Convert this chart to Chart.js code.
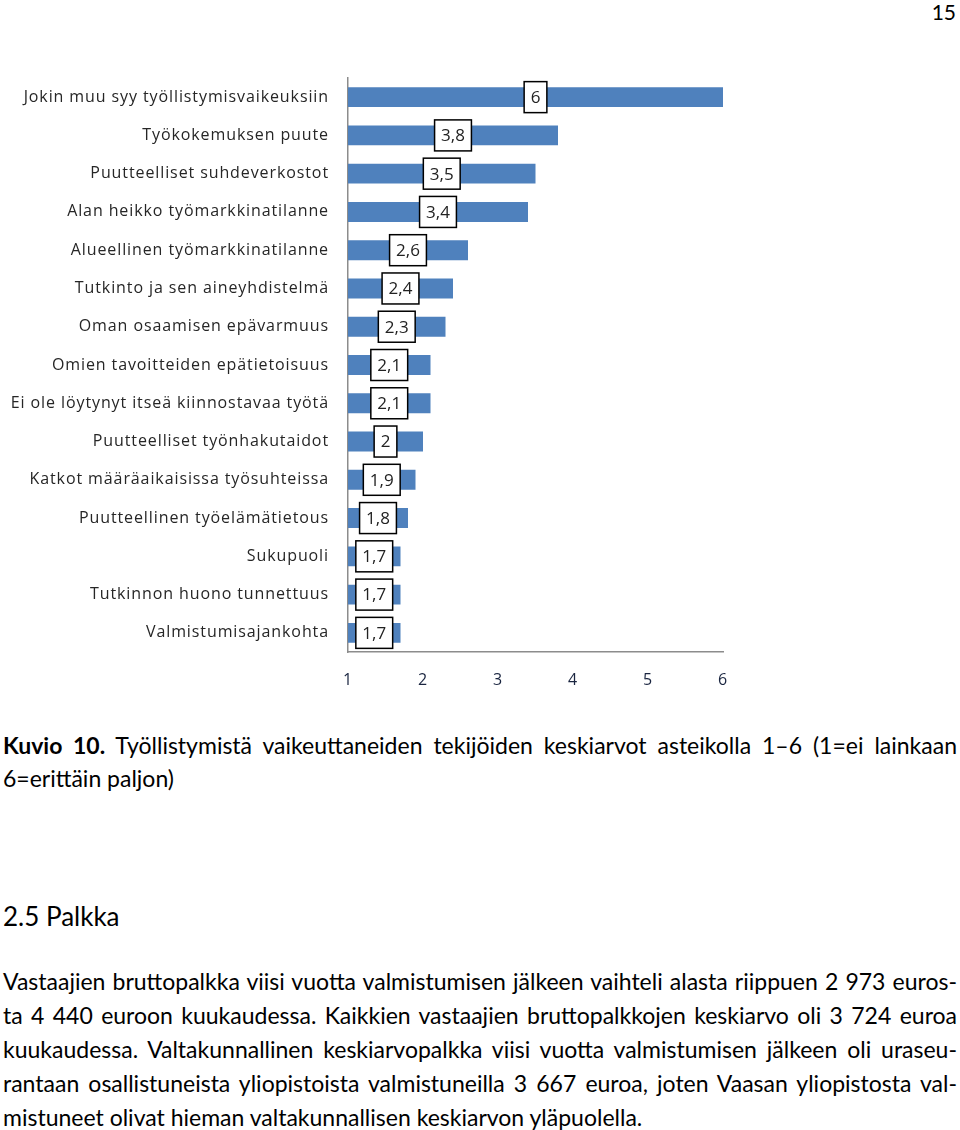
<!DOCTYPE html>
<html>
<head>
<meta charset="utf-8">
<script src="https://cdn.jsdelivr.net/npm/chart.js@4/dist/chart.umd.min.js"></script>
<style>
  html, body { margin: 0; padding: 0; background: #fff; }
  body { width: 960px; height: 1130px; position: relative; overflow: hidden; font-family: Lato, "Open Sans", sans-serif; color: #000; }
  #chartBox { position: absolute; left: 0; top: 60px; width: 760px; height: 640px; }
  .line { position: absolute; left: 3px; width: 954px; font-size: 23px; line-height: 34px; white-space: nowrap; }
  .just { text-align: justify; text-align-last: justify; white-space: normal; }
  .pagenum { position: absolute; right: 4px; top: -5px; font-size: 21px; line-height: 34px; }
  .head { position: absolute; left: 3px; top: 898px; font-size: 26px; line-height: 36px; }
</style>
</head>
<body>
<div class="pagenum">15</div>
<div id="chartBox"><canvas id="barChart"></canvas></div>

<div class="line just" style="top:728px"><b>Kuvio 10.</b> Työllistymistä vaikeuttaneiden tekijöiden keskiarvot asteikolla 1–6 (1=ei lainkaan</div>
<div class="line" style="top:761px">6=erittäin paljon)</div>

<div class="head">2.5 Palkka</div>

<div class="line just" style="top:964px">Vastaajien bruttopalkka viisi vuotta valmistumisen jälkeen vaihteli alasta riippuen 2 973 euros-</div>
<div class="line just" style="top:998px">ta 4 440 euroon kuukaudessa. Kaikkien vastaajien bruttopalkkojen keskiarvo oli 3 724 euroa</div>
<div class="line just" style="top:1032px">kuukaudessa. Valtakunnallinen keskiarvopalkka viisi vuotta valmistumisen jälkeen oli uraseu-</div>
<div class="line just" style="top:1066px">rantaan osallistuneista yliopistoista valmistuneilla 3 667 euroa, joten Vaasan yliopistosta val-</div>
<div class="line" style="top:1100px">mistuneet olivat hieman valtakunnallisen keskiarvon yläpuolella.</div>

<script>
document.addEventListener('DOMContentLoaded', function () {
    const categories = [
        'Jokin muu syy työllistymisvaikeuksiin',
        'Työkokemuksen puute',
        'Puutteelliset suhdeverkostot',
        'Alan heikko työmarkkinatilanne',
        'Alueellinen työmarkkinatilanne',
        'Tutkinto ja sen aineyhdistelmä',
        'Oman osaamisen epävarmuus',
        'Omien tavoitteiden epätietoisuus',
        'Ei ole löytynyt itseä kiinnostavaa työtä',
        'Puutteelliset työnhakutaidot',
        'Katkot määräaikaisissa työsuhteissa',
        'Puutteellinen työelämätietous',
        'Sukupuoli',
        'Tutkinnon huono tunnettuus',
        'Valmistumisajankohta'
    ];
    const meanValues = [6, 3.8, 3.5, 3.4, 2.6, 2.4, 2.3, 2.1, 2.1, 2, 1.9, 1.8, 1.7, 1.7, 1.7];
    const xTicks = [1, 2, 3, 4, 5, 6];

    // the old chart spaces its category text out a bit
    const wideLabels = {
        id: 'wideLabels',
        beforeDraw(chart) { chart.ctx.letterSpacing = '0.9px'; },
        afterDraw(chart) { chart.ctx.letterSpacing = '0px'; }
    };

    // white boxed value labels in the middle of each bar
    const boxLabels = {
        id: 'boxLabels',
        afterDatasetsDraw(chart) {
            const ctx = chart.ctx;
            const meta = chart.getDatasetMeta(0);
            ctx.save();
            ctx.letterSpacing = '0px';
            ctx.font = '17px "Open Sans", sans-serif';
            ctx.textAlign = 'center';
            ctx.textBaseline = 'middle';
            meta.data.forEach((bar, i) => {
                const txt = String(meanValues[i]).replace('.', ',');
                const cx = (bar.x + bar.base) / 2;
                const cy = bar.y;
                const w = ctx.measureText(txt).width + 13;
                const h = 31;
                ctx.fillStyle = '#fff';
                ctx.fillRect(cx - w / 2, cy - h / 2, w, h);
                ctx.lineWidth = 1.5;
                ctx.strokeStyle = '#000';
                ctx.strokeRect(cx - w / 2, cy - h / 2, w, h);
                ctx.fillStyle = '#222';
                ctx.fillText(txt, cx, cy + 1);
            });
            ctx.restore();
        }
    };

    new Chart(document.getElementById('barChart'), {
        type: 'bar',
        data: {
            labels: categories,
            datasets: [{
                data: meanValues,
                base: 1,
                backgroundColor: '#4F81BD',
                borderWidth: 0,
                barPercentage: 0.52,
                categoryPercentage: 1
            }]
        },
        options: {
            indexAxis: 'y',
            responsive: true,
            maintainAspectRatio: false,
            animation: false,
            layout: { padding: { top: 18, right: 37, left: 0, bottom: 0 } },
            plugins: { legend: { display: false }, tooltip: { enabled: false } },
            scales: {
                x: {
                    min: 1,
                    max: 6,
                    afterBuildTicks: (scale) => { scale.ticks = xTicks.map(v => ({ value: v })); },
                    grid: { display: false, drawTicks: false },
                    border: { display: true, color: '#8c8c8c', width: 1.5 },
                    ticks: { padding: 19, color: '#1a2540', font: { family: 'Open Sans', size: 16 } },
                    afterFit: (scale) => { scale.height = 48; scale.paddingLeft = 0; scale.paddingRight = 0; }
                },
                y: {
                    grid: { display: false, drawTicks: false },
                    border: { display: true, color: '#8c8c8c', width: 1.5 },
                    ticks: { padding: 19, color: '#262626', font: { family: 'Open Sans', size: 16 }, autoSkip: false },
                    afterFit: (scale) => { scale.width = 348; scale.paddingTop = 0; scale.paddingBottom = 0; }
                }
            }
        },
        plugins: [wideLabels, boxLabels]
    });
});
</script>
</body>
</html>
